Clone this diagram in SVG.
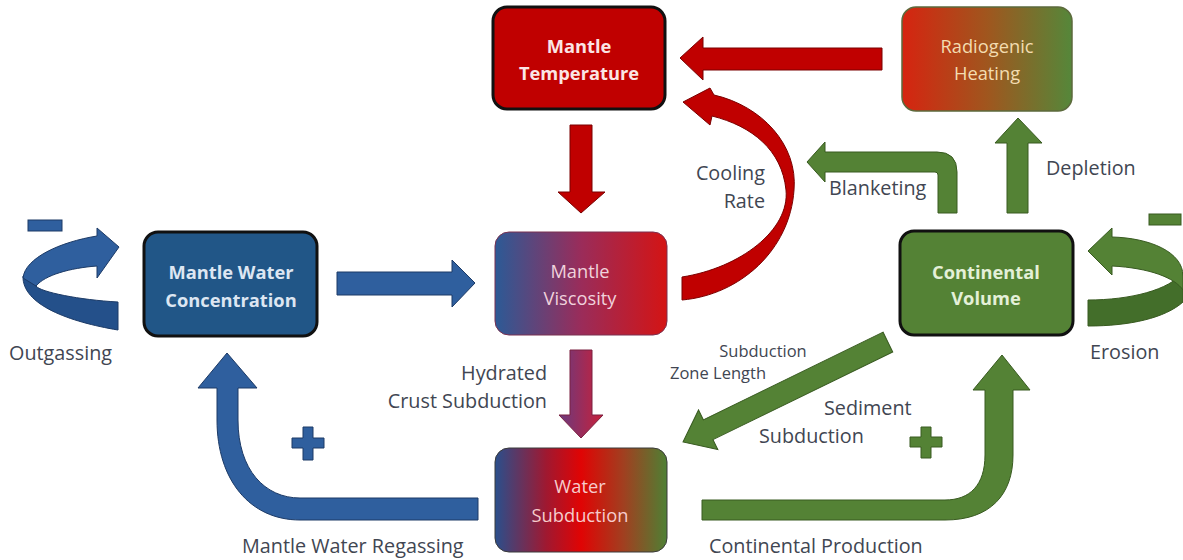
<svg xmlns="http://www.w3.org/2000/svg" width="1183" height="560" viewBox="0 0 1183 560">
<defs>
<linearGradient id="gRH" x1="0" y1="0" x2="1" y2="0">
<stop offset="0" stop-color="#d62410"/><stop offset="0.5" stop-color="#a0561e"/><stop offset="1" stop-color="#55873a"/>
</linearGradient>
<linearGradient id="gMV" x1="0" y1="0" x2="1" y2="0">
<stop offset="0" stop-color="#2c5a96"/><stop offset="0.5" stop-color="#9a2c5a"/><stop offset="1" stop-color="#d41414"/>
</linearGradient>
<linearGradient id="gWS" x1="0" y1="0" x2="1" y2="0">
<stop offset="0" stop-color="#2a4f8c"/><stop offset="0.3" stop-color="#a01830"/><stop offset="0.5" stop-color="#e00404"/><stop offset="0.75" stop-color="#a04020"/><stop offset="1" stop-color="#4e8034"/>
</linearGradient>
<linearGradient id="gAr" x1="0" y1="0" x2="1" y2="0">
<stop offset="0" stop-color="#6a3a7e"/><stop offset="1" stop-color="#c8203a"/>
</linearGradient>
<style>
.lbl{font-family:"Open Sans","Liberation Sans",sans-serif;font-size:19.8px;fill:#414652}
.nd{font-family:"Open Sans","Liberation Sans",sans-serif;font-size:18.3px;text-anchor:middle}
.b{font-weight:bold}
.red{fill:#c00000;stroke:#7a0000;stroke-width:1}
.blue{fill:#2f5f9e;stroke:#1c3a66;stroke-width:1}
.blued{fill:#24508a;stroke:#1c3a66;stroke-width:1}
.green{fill:#548235;stroke:#385a20;stroke-width:1}
.greend{fill:#436e2a;stroke:#385a20;stroke-width:1}
</style>
</defs>
<rect width="1183" height="560" fill="#ffffff"/>

<g id="connectors">
<path class="red" d="M882,48 L703,48 L703,37 L680,58 L703,80 L703,70 L882,70 Z"/>
<path class="red" d="M570,125 L592,125 L592,192 L605,192 L581,213 L558,192 L570,192 Z"/>
<path class="red" d="M682,277 C740,268 790,230 786,190 C782,150 752,126 712,116 L710,125 L683,102 L710,88 L714,95 C762,106 798,145 794,190 C790,250 740,295 682,300 Z"/>
<path fill="url(#gAr)" stroke="#7a2040" stroke-width="1" d="M570,350 L592,350 L592,415 L603,415 L581,438 L559,415 L570,415 Z"/>
<path class="blue" d="M337,272 L452,272 L452,260 L475,283 L452,307 L452,295 L337,295 Z"/>
<path class="blue" d="M478,498 L300,498 C265,498 238,470 238,420 L238,388 L257,388 L227,353 L198,388 L217,388 L217,420 C217,480 250,520 300,520 L478,520 Z"/>
<path class="green" d="M957,213 L957,172 Q957,152 937,152 L825,152 L825,142 L807,162 L825,182 L825,172 L935,172 Q938,172 938,175 L938,213 Z"/>
<path class="green" d="M1007,213 L1007,143 L995,143 L1018,118 L1042,143 L1028,143 L1028,213 Z"/>
<path class="green" d="M702,500 L945,500 C970,500 985,485 985,455 L985,390 L973,390 L1002,355 L1030,390 L1013,390 L1013,455 C1013,495 990,520 945,520 L702,520 Z"/>
<path class="green" transform="translate(683,442) rotate(-26)" d="M0,0 L28,-22 L28,-11 L228,-11 L228,11 L28,11 L28,22 Z"/>
<path class="blued" d="M23,276 C22,305 70,322 118,330 L118,302 C80,300 40,292 36,286 Z"/>
<path class="blue" d="M97,236 C60,242 25,258 23,278 L36,286 C45,275 70,268 97,266 L97,278 L119,247 L97,228 Z"/>
<path class="greend" d="M1088,300 C1130,300 1170,290 1183,272 L1183,302 C1165,318 1130,326 1088,326 Z"/>
<path class="green" d="M1112,237 C1150,238 1183,252 1183,276 L1183,290 C1175,278 1150,268 1112,266 L1112,275 L1088,251 L1112,228 Z"/>
</g>

<g id="signs">
<rect x="28" y="220" width="34" height="11" class="blue"/>
<rect x="1149" y="214" width="32" height="11" class="green"/>
<path class="blue" d="M303,427 L313,427 L313,438 L324,438 L324,448 L313,448 L313,460 L303,460 L303,448 L292,448 L292,438 L303,438 Z"/>
<path class="green" d="M921,427 L931,427 L931,437 L942,437 L942,447 L931,447 L931,458 L921,458 L921,447 L910,447 L910,437 L921,437 Z"/>
</g>

<g id="node-mantle-temperature">
<rect x="493" y="7" width="172" height="102" rx="14" fill="#c00000" stroke="#111" stroke-width="3"/>
<text class="nd b" x="579" y="53" fill="#fbe5e5">Mantle</text>
<text class="nd b" x="579" y="80" fill="#fbe5e5">Temperature</text>
</g>
<g id="node-radiogenic-heating">
<rect x="902" y="7" width="170" height="104" rx="14" fill="url(#gRH)" stroke="#5c6a3c" stroke-width="1.5"/>
<text class="nd" x="987" y="53" fill="#f3dcb0">Radiogenic</text>
<text class="nd" x="987" y="80" fill="#f3dcb0">Heating</text>
</g>
<g id="node-mantle-water-concentration">
<rect x="144" y="232" width="173" height="104" rx="14" fill="#215687" stroke="#111" stroke-width="3"/>
<text class="nd b" x="231" y="279" fill="#dde6f2">Mantle Water</text>
<text class="nd b" x="231" y="307" fill="#dde6f2">Concentration</text>
</g>
<g id="node-mantle-viscosity">
<rect x="495" y="232" width="172" height="103" rx="14" fill="url(#gMV)" stroke="#7a3050" stroke-width="1"/>
<text class="nd" x="580" y="278" fill="#f0d2dc">Mantle</text>
<text class="nd" x="580" y="305" fill="#f0d2dc">Viscosity</text>
</g>
<g id="node-continental-volume">
<rect x="900" y="231" width="173" height="104" rx="14" fill="#548235" stroke="#111" stroke-width="3"/>
<text class="nd b" x="986" y="279" fill="#e4f0d8">Continental</text>
<text class="nd b" x="986" y="305" fill="#e4f0d8">Volume</text>
</g>
<g id="node-water-subduction">
<rect x="495" y="448" width="172" height="104" rx="14" fill="url(#gWS)" stroke="#3a3a3a" stroke-width="1"/>
<text class="nd" x="580" y="493" fill="#f6cccc">Water</text>
<text class="nd" x="580" y="522" fill="#f6cccc">Subduction</text>
</g>

<g id="labels">
<text class="lbl" x="765" y="180" text-anchor="end">Cooling</text>
<text class="lbl" x="765" y="208" text-anchor="end">Rate</text>
<text class="lbl" x="829" y="195">Blanketing</text>
<text class="lbl" x="1046" y="175">Depletion</text>
<text class="lbl" x="1090" y="359">Erosion</text>
<text class="lbl" x="9" y="360">Outgassing</text>
<text class="lbl" x="547" y="380" text-anchor="end">Hydrated</text>
<text class="lbl" x="547" y="408" text-anchor="end">Crust Subduction</text>
<text class="lbl" x="763" y="357" text-anchor="middle" style="font-size:16.5px">Subduction</text>
<text class="lbl" x="766" y="379" text-anchor="end" style="font-size:16.5px">Zone Length</text>
<text class="lbl" x="824" y="415">Sediment</text>
<text class="lbl" x="759" y="443">Subduction</text>
<text class="lbl" x="242" y="553">Mantle Water Regassing</text>
<text class="lbl" x="709" y="553">Continental Production</text>
</g>
</svg>
